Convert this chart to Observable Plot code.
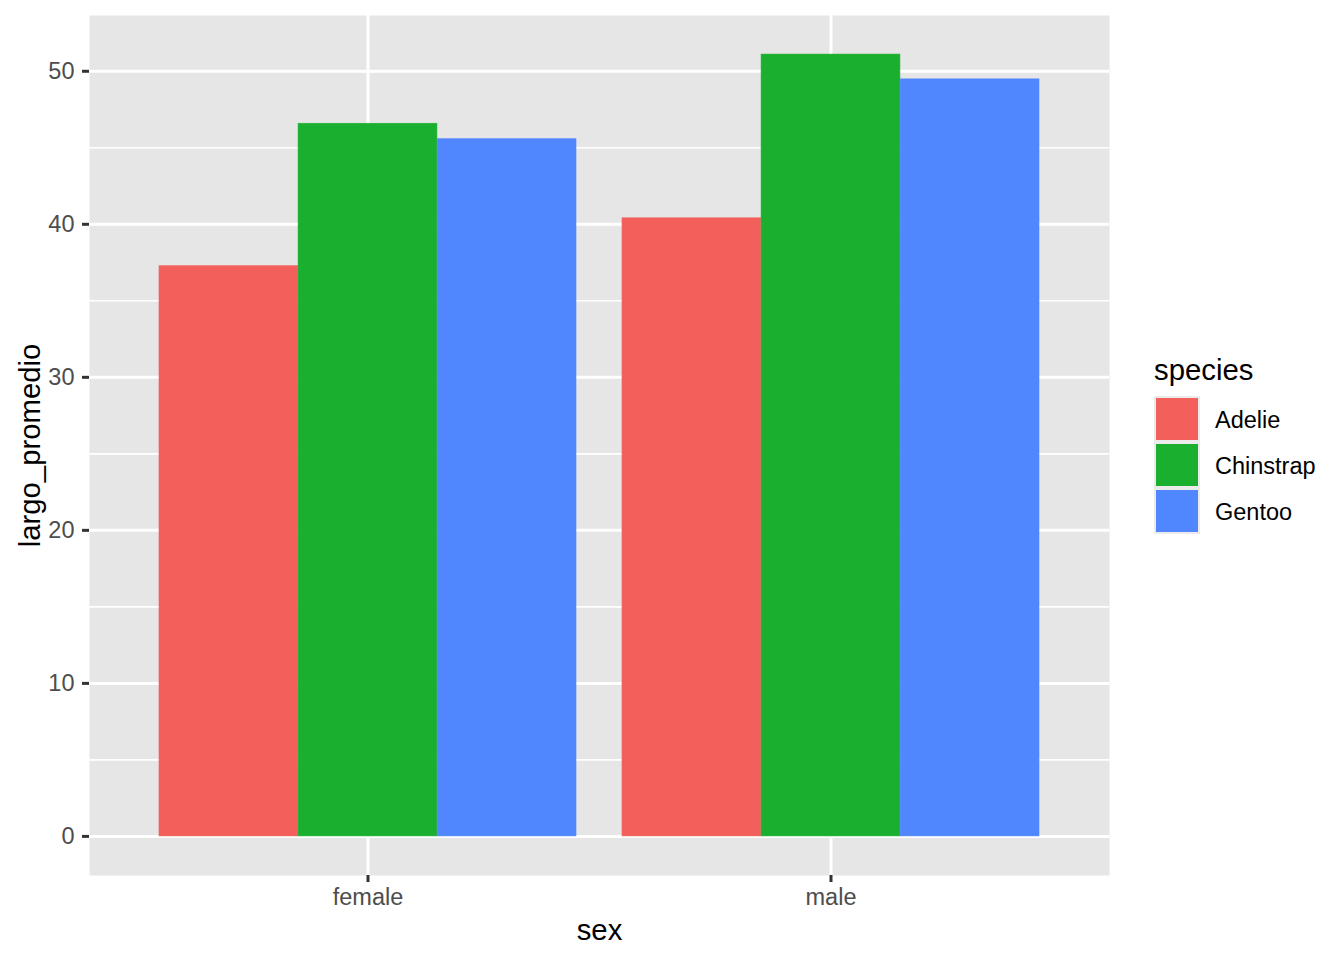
<!DOCTYPE html>
<html>
<head>
<meta charset="utf-8">
<script src="https://cdn.jsdelivr.net/npm/d3@7"></script>
<script src="https://cdn.jsdelivr.net/npm/@observablehq/plot@0.6"></script>
<style>
  html, body { margin: 0; padding: 0; background: #fff; }
  #wrap { position: relative; width: 1344px; height: 960px; font-family: "Liberation Sans", Arial, Helvetica, sans-serif; }
  #legend { position: absolute; left: 1154px; top: 352px; }
  #legend .title { font-size: 29.3px; color: #000; height: 45px; line-height: 36px; }
  #legend .row { display: flex; align-items: center; height: 46px; }
  #legend .key { width: 42px; height: 42px; border: 2px solid #ebebeb; box-sizing: content-box; margin-top: -2px; }
  #legend .lab { font-size: 23.5px; margin-left: 15px; color: #000; }
</style>
</head>
<body>
<div id="wrap"></div>
<script>
const sexes = ["female", "male"];
const species = ["Adelie", "Chinstrap", "Gentoo"];
const femaleValues = [37.26, 46.57, 45.56];
const maleValues = [40.39, 51.09, 49.47];
const speciesColors = ["#f3605b", "#1aaf2e", "#5087ff"];
const yTicks = [0, 10, 20, 30, 40, 50];
const yMinor = [5, 15, 25, 35, 45];

const data = species.flatMap((s, i) => [
  {sex: "female", species: s, largo: femaleValues[i]},
  {sex: "male", species: s, largo: maleValues[i]}
]);

const W = 1344, H = 960, mL = 89, mR = 235, mT = 15, mB = 85;
const xOpts = {type: "band", domain: sexes, paddingInner: 0.1, paddingOuter: 0.15};
const bw = Plot.scale({x: {...xOpts, range: [mL, W - mR]}}).bandwidth;
const sub = bw / species.length;
const maxV = d3.max(data, d => d.largo);
const pad = maxV * 0.05;

const font = "'Liberation Sans', Arial, Helvetica, sans-serif";

const chart = Plot.plot({
  width: W, height: H,
  marginLeft: mL, marginRight: mR, marginTop: mT, marginBottom: mB,
  style: {fontFamily: font, background: "transparent"},
  x: {...xOpts, axis: null},
  y: {domain: [-pad, maxV + pad], axis: null},
  color: {domain: species, range: speciesColors},
  marks: [
    Plot.frame({fill: "#e6e6e6", stroke: null}),
    Plot.gridY(yMinor, {stroke: "#fff", strokeOpacity: 1, strokeWidth: 1.6}),
    Plot.gridY(yTicks, {stroke: "#fff", strokeOpacity: 1, strokeWidth: 3}),
    Plot.gridX({stroke: "#fff", strokeOpacity: 1, strokeWidth: 3}),
    ...species.map((s, i) => Plot.barY(data.filter(d => d.species === s), {
      x: "sex", y: "largo", fill: "species", stroke: "species", strokeWidth: 0.6,
      insetLeft: i * sub, insetRight: (species.length - 1 - i) * sub
    })),
    Plot.axisY(yTicks, {tickSize: 7, tickPadding: 8, fontSize: 23.5, stroke: "#333", fill: "#4d4d4d", strokeWidth: 3, label: null}),
    Plot.axisX({tickSize: 7, tickPadding: 6, fontSize: 23.5, stroke: "#333", fill: "#4d4d4d", strokeWidth: 3, label: null}),
    Plot.text(["sex"], {frameAnchor: "bottom", dy: 55, lineAnchor: "middle", textAnchor: "middle", fontSize: 29.3, fill: "#000", text: d => d}),
    Plot.text(["largo_promedio"], {frameAnchor: "left", dx: -59, rotate: -90, textAnchor: "middle", lineAnchor: "middle", fontSize: 29.3, fill: "#000", text: d => d})
  ]
});

const wrap = document.getElementById("wrap");
wrap.appendChild(chart);

const legend = document.createElement("div");
legend.id = "legend";
legend.innerHTML = `<div class="title">species</div>` +
  species.map((s, i) => `<div class="row"><div class="key" style="background:${speciesColors[i]}"></div><div class="lab">${s}</div></div>`).join("");
wrap.appendChild(legend);
</script>
</body>
</html>
